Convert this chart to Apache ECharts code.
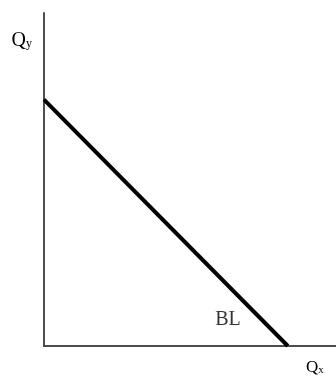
<!DOCTYPE html>
<html>
<head>
<meta charset="utf-8">
<script src="https://cdn.jsdelivr.net/npm/echarts@6/dist/echarts.min.js"></script>
<style>
  html, body { margin: 0; padding: 0; background: #fff; }
  #chart { width: 336px; height: 376px; }
</style>
</head>
<body>
<div id="chart"></div>
<script>
// budget line data
var xRange = [0, 10];
var yRange = [0, 10];
var budgetLine = [[0, 7.4], [8.35, 0]];
var lineLabel = 'BL';
var labelAt = [6.3, 0.8];

var serif = 'Liberation Serif';

var chart = echarts.init(document.getElementById('chart'));

chart.setOption({
  animation: false,
  grid: { left: 44, right: 0, top: 13, bottom: 29 },
  xAxis: {
    type: 'value',
    min: xRange[0],
    max: xRange[1],
    name: '{q|Q}{s|x}',
    nameLocation: 'end',
    nameGap: -30,
    nameTextStyle: {
      align: 'left',
      verticalAlign: 'top',
      padding: [13, 0, 0, 0],
      rich: {
        q: { fontFamily: serif, fontSize: 17, color: '#000' },
        s: { fontFamily: serif, fontSize: 11, color: '#000', padding: [5, 0, 0, 0] }
      }
    },
    axisLine: { show: true, onZero: false, lineStyle: { color: '#4d4d4d', width: 2 } },
    axisTick: { show: false },
    axisLabel: { show: false },
    splitLine: { show: false }
  },
  yAxis: {
    type: 'value',
    min: yRange[0],
    max: yRange[1],
    name: '{q|Q}{s|y}',
    nameLocation: 'end',
    nameGap: -28,
    nameTextStyle: {
      align: 'right',
      verticalAlign: 'middle',
      padding: [0, 12, 0, 0],
      rich: {
        q: { fontFamily: serif, fontSize: 20, color: '#000' },
        s: { fontFamily: serif, fontSize: 12, color: '#000', padding: [6, 0, 0, 0] }
      }
    },
    axisLine: { show: true, onZero: false, lineStyle: { color: '#4d4d4d', width: 2 } },
    axisTick: { show: false },
    axisLabel: { show: false },
    splitLine: { show: false }
  },
  series: [{
    type: 'line',
    data: budgetLine,
    symbol: 'none',
    lineStyle: { color: '#000', width: 4 }
  }, {
    // label for the budget line
    type: 'scatter',
    data: [labelAt],
    symbolSize: 0,
    silent: true,
    label: {
      show: true,
      position: 'inside',
      formatter: lineLabel,
      fontFamily: serif,
      fontSize: 20,
      color: '#000'
    }
  }]
});
</script>
</body>
</html>
